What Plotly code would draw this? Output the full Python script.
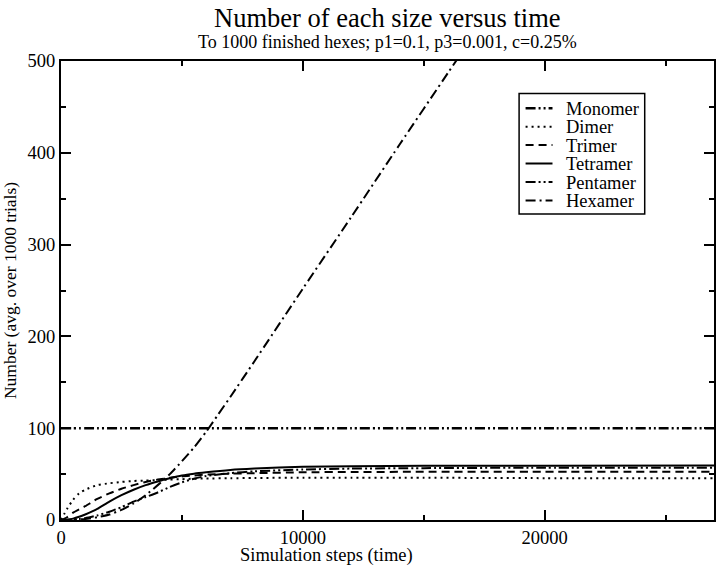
import plotly.graph_objects as go

# ---- data ----
steps = [0, 250, 500, 750, 1000, 1500, 2000, 2500, 3000, 3500, 4000, 4500,
         5000, 5500, 6000, 7000, 8000, 10000, 12000, 15000, 20000, 27000]

monomer = [100] * len(steps)
dimer = [0, 12, 22, 29, 33, 38, 40, 41.5, 42.5, 43, 43.5, 44, 44.5, 45, 45.2,
         45.5, 45.8, 46, 46, 46, 45.6, 45.5]
trimer = [0, 3, 8, 11.5, 15, 23, 29, 34, 38, 41.5, 44, 46, 47.5, 48.5, 49.5,
          50.5, 51, 52, 52.3, 52.5, 52.5, 52.5]
tetramer = [0, 0.5, 1.5, 3.5, 6, 12, 20, 27, 33, 38, 42, 45.5, 48.5, 50.5, 52,
            54.5, 56, 58, 58.5, 59, 59, 59.5]
pentamer = [0, 0.1, 0.5, 1, 2, 5, 9, 14, 20, 25, 30, 36, 41, 45, 48,
            51, 53, 55, 56, 56.5, 57, 57]

hex_steps = [0, 500, 1000, 1500, 2000, 2500, 3000, 3500, 4000, 4500, 5000,
             5500, 6000, 6500, 7000, 8000, 10000, 12000, 14000, 16000, 17000]
hexamer = [0, 0.3, 1.2, 3, 6, 11, 18, 27, 38, 50, 64, 79, 96, 115, 134,
           173, 252, 330, 409, 487, 526]

names = ["Monomer", "Dimer", "Trimer", "Tetramer", "Pentamer", "Hexamer"]

FONT = "Liberation Serif, Times New Roman, serif"

styles = {
    "Monomer": dict(dash="10px,3px,2px,3px,2px,3px", width=2.5),
    "Dimer": dict(dash="2px,4px", width=2),
    "Trimer": dict(dash="8px,5px", width=2),
    "Tetramer": dict(dash="solid", width=2),
    "Pentamer": dict(dash="10px,3px,2px,3px,2px,3px", width=2),
    "Hexamer": dict(dash="10px,4px,2px,4px", width=2),
}

series = {
    "Monomer": (steps, monomer),
    "Dimer": (steps, dimer),
    "Trimer": (steps, trimer),
    "Tetramer": (steps, tetramer),
    "Pentamer": (steps, pentamer),
    "Hexamer": (hex_steps, hexamer),
}

W, H = 720, 565
ML, MR, MT, MB = 61, 4, 61, 45
PW, PH = W - ML - MR, H - MT - MB


def px2x(px):
    return (px - ML) / PW


def py2y(py):
    return (H - MB - py) / PH


fig = go.Figure()
for n in names:
    xs, ys = series[n]
    fig.add_trace(go.Scatter(
        x=xs, y=ys, mode="lines", name=n, showlegend=False,
        line=dict(color="black", shape="spline", smoothing=0.6, **styles[n]),
    ))

axis_common = dict(
    showgrid=False, zeroline=False, showline=True, linecolor="black",
    linewidth=2, mirror="ticks", ticks="inside", ticklen=10, tickwidth=1.5,
    tickcolor="black", tickfont=dict(family=FONT, size=18.5, color="black"),
    tickformat="d",
)

fig.update_xaxes(
    range=[0, 27000], tick0=0, dtick=10000,
    minor=dict(ticks="inside", ticklen=5, dtick=5000, tickcolor="black", tickwidth=1.5),
    **axis_common,
)
fig.update_yaxes(
    range=[0, 500], tick0=0, dtick=100,
    minor=dict(ticks="inside", ticklen=5, dtick=50, tickcolor="black", tickwidth=1.5),
    title=dict(text="Number (avg. over 1000 trials)", font=dict(family=FONT, size=17.5, color="black"), standoff=8),
    **axis_common,
)

# ---- manual legend (box, line samples, labels) ----
row_y = [108.3, 126.7, 145.1, 163.5, 182.0, 200.5]
row_gap = 18.45
shapes = [dict(type="rect", xref="paper", yref="paper",
               x0=px2x(520.5), x1=px2x(646.5), y0=py2y(214), y1=py2y(93.5),
               line=dict(color="black", width=1.5), fillcolor="white", layer="above")]
for n, ry in zip(names, row_y):
    st = styles[n]
    shapes.append(dict(type="line", xref="paper", yref="paper",
                       x0=px2x(527), x1=px2x(554), y0=py2y(ry), y1=py2y(ry),
                       line=dict(color="black", width=st["width"], dash=st["dash"]),
                       layer="above"))

legend_text = "<br>".join(
    f"<span style='font-size:18.5px'>{n}</span>" for n in names)

annotations = [
    dict(text=legend_text, xref="paper", yref="paper",
         x=px2x(567), y=py2y((row_y[0] + row_y[-1]) / 2 + 1), xanchor="left",
         yanchor="middle", align="left", showarrow=False, borderpad=0,
         font=dict(family=FONT, size=row_gap / 1.3, color="black")),
    dict(text="Number of each size versus time", xref="paper", yref="paper",
         x=0.5, y=py2y(18), xanchor="center", yanchor="middle", showarrow=False,
         font=dict(family=FONT, size=26.5, color="black")),
    dict(text="To 1000 finished hexes; p1=0.1, p3=0.001, c=0.25%", xref="paper",
         yref="paper", x=0.5, y=py2y(42), xanchor="center", yanchor="middle",
         showarrow=False, font=dict(family=FONT, size=18, color="black")),
    dict(text="Simulation steps (time)", xref="paper", yref="paper",
         x=px2x(327), y=py2y(555), xanchor="center", yanchor="middle",
         showarrow=False, font=dict(family=FONT, size=18.5, color="black")),
]

fig.update_layout(
    width=W, height=H,
    margin=dict(l=ML, r=MR, t=MT, b=MB),
    paper_bgcolor="white", plot_bgcolor="white",
    font=dict(family=FONT, color="black"),
    showlegend=False,
    shapes=shapes,
    annotations=annotations,
)

fig.write_html("out.html", config={"displayModeBar": False},
               post_script="document.body.style.margin='0';document.body.style.padding='0';")
